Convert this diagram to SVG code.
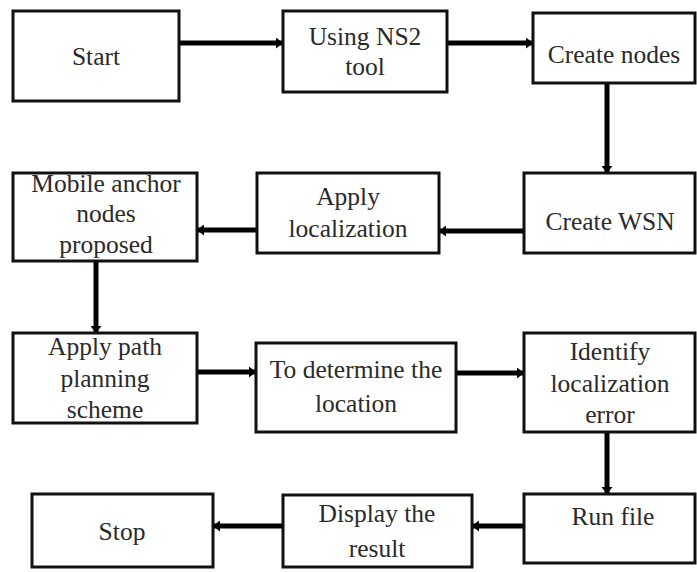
<svg xmlns="http://www.w3.org/2000/svg" width="697" height="572" viewBox="0 0 697 572">
<defs>
<marker id="ah" markerUnits="userSpaceOnUse" markerWidth="8" markerHeight="11" refX="7" refY="5.5" orient="auto">
<path d="M0,0 L7,5.5 L0,11 z" fill="#000"/>
</marker>
<style>
.box{fill:#fff;stroke:#111;stroke-width:3}
.t{font-size:25.5px;fill:#2a2a2a;text-anchor:middle}
.c{stroke:#000;stroke-width:5;fill:none;marker-end:url(#ah)}
</style>
</defs>
<rect width="697" height="572" fill="#fff"/>
<g id="connectors">
<line class="c" x1="179" y1="43" x2="283" y2="43"/>
<line class="c" x1="447" y1="43" x2="533" y2="43"/>
<line class="c" x1="607" y1="83" x2="607" y2="173"/>
<line class="c" x1="524" y1="231" x2="439" y2="231"/>
<line class="c" x1="257" y1="230" x2="197" y2="230"/>
<line class="c" x1="96" y1="261" x2="96" y2="333"/>
<line class="c" x1="197" y1="372" x2="256" y2="372"/>
<line class="c" x1="456" y1="373" x2="524" y2="373"/>
<line class="c" x1="607" y1="432" x2="607" y2="494"/>
<line class="c" x1="524" y1="526" x2="472" y2="526"/>
<line class="c" x1="283" y1="526" x2="213" y2="526"/>
</g>
<g font-family="Liberation Serif, DejaVu Serif, serif">
<g id="start"><rect class="box" x="13" y="11" width="166" height="90"/><text class="t" x="96" y="65">Start</text></g>
<g id="ns2"><rect class="box" x="283" y="11" width="164" height="81"/><text class="t" x="365" y="45">Using NS2</text><text class="t" x="365" y="75">tool</text></g>
<g id="createnodes"><rect class="box" x="533" y="13" width="162" height="70"/><text class="t" x="614" y="63">Create nodes</text></g>
<g id="createwsn"><rect class="box" x="524" y="173" width="171" height="80"/><text class="t" x="610" y="230">Create WSN</text></g>
<g id="applyloc"><rect class="box" x="257" y="173" width="182" height="80"/><text class="t" x="348" y="205">Apply</text><text class="t" x="348" y="237">localization</text></g>
<g id="mobile"><rect class="box" x="13" y="173" width="184" height="88"/><text class="t" x="106" y="192">Mobile anchor</text><text class="t" x="106" y="222">nodes</text><text class="t" x="106" y="253">proposed</text></g>
<g id="pathplan"><rect class="box" x="13" y="333" width="184" height="90"/><text class="t" x="105" y="355">Apply path</text><text class="t" x="105" y="387">planning</text><text class="t" x="105" y="418">scheme</text></g>
<g id="determine"><rect class="box" x="256" y="343" width="200" height="89"/><text class="t" x="356" y="378">To determine the</text><text class="t" x="356" y="412">location</text></g>
<g id="identify"><rect class="box" x="524" y="333" width="171" height="99"/><text class="t" x="610" y="360">Identify</text><text class="t" x="610" y="392">localization</text><text class="t" x="610" y="423">error</text></g>
<g id="runfile"><rect class="box" x="524" y="494" width="171" height="69"/><text class="t" x="613" y="525">Run file</text></g>
<g id="display"><rect class="box" x="283" y="495" width="189" height="72"/><text class="t" x="377" y="522">Display the</text><text class="t" x="377" y="557">result</text></g>
<g id="stop"><rect class="box" x="32" y="494" width="181" height="73"/><text class="t" x="122" y="540">Stop</text></g>
</g>
</svg>
